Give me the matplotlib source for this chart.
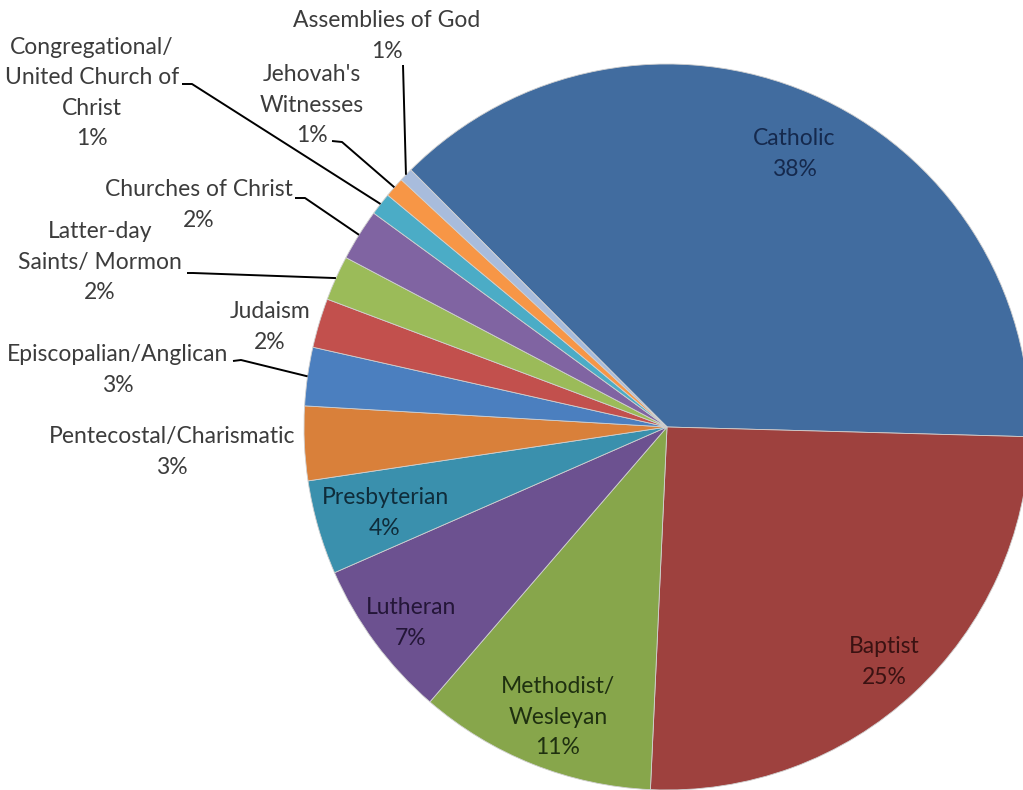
import numpy as np
import matplotlib.pyplot as plt

# data (slice sizes in percent, clockwise from top-left)
names = ['Catholic', 'Baptist', 'Methodist/\nWesleyan', 'Lutheran', 'Presbyterian',
         'Pentecostal/Charismatic', 'Episcopalian/Anglican', 'Judaism',
         'Latter-day\nSaints/ Mormon', 'Churches of Christ',
         'Congregational/\nUnited Church of\nChrist', "Jehovah's\nWitnesses",
         'Assemblies of God']
shares = [37.9, 25.3, 10.6, 7.1, 4.2, 3.3, 2.6, 2.2, 2.0, 2.3, 1.0, 0.9, 0.6]

colors = ['#416c9f', '#9e413e', '#87a64b', '#6c5190', '#3a90ad', '#d9803a',
          '#4b7fbf', '#c2504d', '#9bbb59', '#8064a2', '#4bacc6', '#f79646',
          '#a8bcdc']

# layout (pixel coordinates, y measured from top)
W, H = 1023, 790
cx, cy, R = 667, 427, 363
label_xy = [(794, 154), (884, 662), (558, 717), (411, 623), (385, 513),
            (172, 452), (118, 370), (270, 327), (100, 262), (199, 205),
            (92, 93), (312, 105), (387, 36)]
inside = [True, True, True, True, True, False, False, False, False, False,
          False, False, False]
text_col = ['#15294d', '#3a1212', '#1f3010', '#241638', '#0f2c3a']
# leader lines: elbow points near the text, the other end sits on the wedge
leaders = {6: [(233, 361), (241, 360)],
           8: [(187, 273), (193, 273)],
           9: [(295, 198), (305, 198)],
           10: [(182, 84), (192, 84)],
           11: [(332, 141), (342, 142)],
           12: [(403, 65)]}

fig = plt.figure(figsize=(W / 100, H / 100), dpi=100)
ax = fig.add_axes([0, 0, 1, 1])
plt.rcParams['font.family'] = ['Lato', 'DejaVu Sans']

wedges, _ = ax.pie(shares, colors=colors, startangle=134.9, counterclock=False,
                   center=(cx, H - cy), radius=R,
                   wedgeprops=dict(edgecolor='#d0d0d0', linewidth=0.6))
ax.set_xlim(0, W)
ax.set_ylim(0, H)
ax.set_aspect('auto')
ax.axis('off')

for i, (name, val) in enumerate(zip(names, shares)):
    x, y = label_xy[i]
    col = text_col[i] if inside[i] else '#3c3c3c'
    ax.text(x, H - y, f'{name}\n{val:.0f}%', ha='center', va='center',
            fontsize=16.5, color=col, linespacing=1.56)

for i, pts in leaders.items():
    w = wedges[i]
    mid = np.deg2rad((w.theta1 + w.theta2) / 2)
    ex, ey = cx + R * np.cos(mid), (H - cy) + R * np.sin(mid)
    xs = [p[0] for p in pts] + [ex]
    ys = [H - p[1] for p in pts] + [ey]
    ax.plot(xs, ys, color='black', linewidth=1.4, solid_capstyle='butt')

fig.savefig('out.png', dpi=100, facecolor='white')
